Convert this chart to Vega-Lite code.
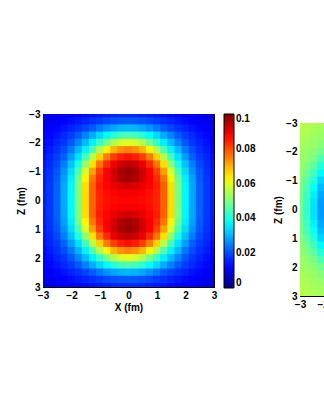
{
"$schema": "https://vega.github.io/schema/vega-lite/v6.json",
"padding": {"left": 16, "top": 109, "right": 0, "bottom": 10},
"background": "white",
"config": {
 "view": {"stroke": null},
 "font": "Liberation Sans",
 "axis": {"labelFont": "Liberation Sans", "labelFontWeight": "bold", "labelFontSize": 10, "labelColor": "black", "titleFont": "Liberation Sans", "titleFontWeight": "bold", "titleFontSize": 10, "titleColor": "black", "tickColor": "black", "domainColor": "black", "tickSize": -4, "grid": false, "labelPadding": 7, "titlePadding": 2, "labelFlush": false, "labelOverlap": false}
},
"datasets": {
"p1": [
{"x":-3,"z":-3,"v":0.0097},{"x":-2.75,"z":-3,"v":0.0100},{"x":-2.5,"z":-3,"v":0.0107},{"x":-2.25,"z":-3,"v":0.0113},{"x":-2,"z":-3,"v":0.0119},{"x":-1.75,"z":-3,"v":0.0127},{"x":-1.5,"z":-3,"v":0.0134},{"x":-1.25,"z":-3,"v":0.0142},{"x":-1,"z":-3,"v":0.0150},{"x":-0.75,"z":-3,"v":0.0155},{"x":-0.5,"z":-3,"v":0.0161},{"x":-0.25,"z":-3,"v":0.0164},{"x":0,"z":-3,"v":0.0165},{"x":0.25,"z":-3,"v":0.0164},{"x":0.5,"z":-3,"v":0.0161},{"x":0.75,"z":-3,"v":0.0155},{"x":1,"z":-3,"v":0.0150},{"x":1.25,"z":-3,"v":0.0142},{"x":1.5,"z":-3,"v":0.0134},{"x":1.75,"z":-3,"v":0.0127},{"x":2,"z":-3,"v":0.0119},{"x":2.25,"z":-3,"v":0.0113},{"x":2.5,"z":-3,"v":0.0107},{"x":2.75,"z":-3,"v":0.0100},{"x":3,"z":-3,"v":0.0097},
{"x":-3,"z":-2.75,"v":0.0103},{"x":-2.75,"z":-2.75,"v":0.0110},{"x":-2.5,"z":-2.75,"v":0.0117},{"x":-2.25,"z":-2.75,"v":0.0126},{"x":-2,"z":-2.75,"v":0.0136},{"x":-1.75,"z":-2.75,"v":0.0148},{"x":-1.5,"z":-2.75,"v":0.0159},{"x":-1.25,"z":-2.75,"v":0.0171},{"x":-1,"z":-2.75,"v":0.0182},{"x":-0.75,"z":-2.75,"v":0.0195},{"x":-0.5,"z":-2.75,"v":0.0204},{"x":-0.25,"z":-2.75,"v":0.0210},{"x":0,"z":-2.75,"v":0.0212},{"x":0.25,"z":-2.75,"v":0.0210},{"x":0.5,"z":-2.75,"v":0.0204},{"x":0.75,"z":-2.75,"v":0.0195},{"x":1,"z":-2.75,"v":0.0182},{"x":1.25,"z":-2.75,"v":0.0171},{"x":1.5,"z":-2.75,"v":0.0159},{"x":1.75,"z":-2.75,"v":0.0148},{"x":2,"z":-2.75,"v":0.0136},{"x":2.25,"z":-2.75,"v":0.0126},{"x":2.5,"z":-2.75,"v":0.0117},{"x":2.75,"z":-2.75,"v":0.0110},{"x":3,"z":-2.75,"v":0.0103},
{"x":-3,"z":-2.5,"v":0.0111},{"x":-2.75,"z":-2.5,"v":0.0119},{"x":-2.5,"z":-2.5,"v":0.0130},{"x":-2.25,"z":-2.5,"v":0.0143},{"x":-2,"z":-2.5,"v":0.0158},{"x":-1.75,"z":-2.5,"v":0.0174},{"x":-1.5,"z":-2.5,"v":0.0194},{"x":-1.25,"z":-2.5,"v":0.0215},{"x":-1,"z":-2.5,"v":0.0243},{"x":-0.75,"z":-2.5,"v":0.0269},{"x":-0.5,"z":-2.5,"v":0.0288},{"x":-0.25,"z":-2.5,"v":0.0302},{"x":0,"z":-2.5,"v":0.0306},{"x":0.25,"z":-2.5,"v":0.0302},{"x":0.5,"z":-2.5,"v":0.0288},{"x":0.75,"z":-2.5,"v":0.0269},{"x":1,"z":-2.5,"v":0.0243},{"x":1.25,"z":-2.5,"v":0.0215},{"x":1.5,"z":-2.5,"v":0.0194},{"x":1.75,"z":-2.5,"v":0.0174},{"x":2,"z":-2.5,"v":0.0158},{"x":2.25,"z":-2.5,"v":0.0143},{"x":2.5,"z":-2.5,"v":0.0130},{"x":2.75,"z":-2.5,"v":0.0119},{"x":3,"z":-2.5,"v":0.0111},
{"x":-3,"z":-2.25,"v":0.0119},{"x":-2.75,"z":-2.25,"v":0.0131},{"x":-2.5,"z":-2.25,"v":0.0146},{"x":-2.25,"z":-2.25,"v":0.0164},{"x":-2,"z":-2.25,"v":0.0184},{"x":-1.75,"z":-2.25,"v":0.0212},{"x":-1.5,"z":-2.25,"v":0.0253},{"x":-1.25,"z":-2.25,"v":0.0295},{"x":-1,"z":-2.25,"v":0.0337},{"x":-0.75,"z":-2.25,"v":0.0372},{"x":-0.5,"z":-2.25,"v":0.0414},{"x":-0.25,"z":-2.25,"v":0.0439},{"x":0,"z":-2.25,"v":0.0448},{"x":0.25,"z":-2.25,"v":0.0439},{"x":0.5,"z":-2.25,"v":0.0414},{"x":0.75,"z":-2.25,"v":0.0372},{"x":1,"z":-2.25,"v":0.0337},{"x":1.25,"z":-2.25,"v":0.0295},{"x":1.5,"z":-2.25,"v":0.0253},{"x":1.75,"z":-2.25,"v":0.0212},{"x":2,"z":-2.25,"v":0.0184},{"x":2.25,"z":-2.25,"v":0.0164},{"x":2.5,"z":-2.25,"v":0.0146},{"x":2.75,"z":-2.25,"v":0.0131},{"x":3,"z":-2.25,"v":0.0119},
{"x":-3,"z":-2,"v":0.0126},{"x":-2.75,"z":-2,"v":0.0140},{"x":-2.5,"z":-2,"v":0.0158},{"x":-2.25,"z":-2,"v":0.0179},{"x":-2,"z":-2,"v":0.0210},{"x":-1.75,"z":-2,"v":0.0256},{"x":-1.5,"z":-2,"v":0.0308},{"x":-1.25,"z":-2,"v":0.0360},{"x":-1,"z":-2,"v":0.0429},{"x":-0.75,"z":-2,"v":0.0491},{"x":-0.5,"z":-2,"v":0.0549},{"x":-0.25,"z":-2,"v":0.0587},{"x":0,"z":-2,"v":0.0599},{"x":0.25,"z":-2,"v":0.0587},{"x":0.5,"z":-2,"v":0.0549},{"x":0.75,"z":-2,"v":0.0491},{"x":1,"z":-2,"v":0.0429},{"x":1.25,"z":-2,"v":0.0360},{"x":1.5,"z":-2,"v":0.0308},{"x":1.75,"z":-2,"v":0.0256},{"x":2,"z":-2,"v":0.0210},{"x":2.25,"z":-2,"v":0.0179},{"x":2.5,"z":-2,"v":0.0158},{"x":2.75,"z":-2,"v":0.0140},{"x":3,"z":-2,"v":0.0126},
{"x":-3,"z":-1.75,"v":0.0133},{"x":-2.75,"z":-1.75,"v":0.0150},{"x":-2.5,"z":-1.75,"v":0.0171},{"x":-2.25,"z":-1.75,"v":0.0200},{"x":-2,"z":-1.75,"v":0.0244},{"x":-1.75,"z":-1.75,"v":0.0303},{"x":-1.5,"z":-1.75,"v":0.0364},{"x":-1.25,"z":-1.75,"v":0.0453},{"x":-1,"z":-1.75,"v":0.0546},{"x":-0.75,"z":-1.75,"v":0.0636},{"x":-0.5,"z":-1.75,"v":0.0697},{"x":-0.25,"z":-1.75,"v":0.0733},{"x":0,"z":-1.75,"v":0.0746},{"x":0.25,"z":-1.75,"v":0.0733},{"x":0.5,"z":-1.75,"v":0.0697},{"x":0.75,"z":-1.75,"v":0.0636},{"x":1,"z":-1.75,"v":0.0546},{"x":1.25,"z":-1.75,"v":0.0453},{"x":1.5,"z":-1.75,"v":0.0364},{"x":1.75,"z":-1.75,"v":0.0303},{"x":2,"z":-1.75,"v":0.0244},{"x":2.25,"z":-1.75,"v":0.0200},{"x":2.5,"z":-1.75,"v":0.0171},{"x":2.75,"z":-1.75,"v":0.0150},{"x":3,"z":-1.75,"v":0.0133},
{"x":-3,"z":-1.5,"v":0.0139},{"x":-2.75,"z":-1.5,"v":0.0159},{"x":-2.5,"z":-1.5,"v":0.0183},{"x":-2.25,"z":-1.5,"v":0.0219},{"x":-2,"z":-1.5,"v":0.0281},{"x":-1.75,"z":-1.5,"v":0.0346},{"x":-1.5,"z":-1.5,"v":0.0443},{"x":-1.25,"z":-1.5,"v":0.0555},{"x":-1,"z":-1.5,"v":0.0671},{"x":-0.75,"z":-1.5,"v":0.0754},{"x":-0.5,"z":-1.5,"v":0.0815},{"x":-0.25,"z":-1.5,"v":0.0847},{"x":0,"z":-1.5,"v":0.0860},{"x":0.25,"z":-1.5,"v":0.0847},{"x":0.5,"z":-1.5,"v":0.0815},{"x":0.75,"z":-1.5,"v":0.0754},{"x":1,"z":-1.5,"v":0.0671},{"x":1.25,"z":-1.5,"v":0.0555},{"x":1.5,"z":-1.5,"v":0.0443},{"x":1.75,"z":-1.5,"v":0.0346},{"x":2,"z":-1.5,"v":0.0281},{"x":2.25,"z":-1.5,"v":0.0219},{"x":2.5,"z":-1.5,"v":0.0183},{"x":2.75,"z":-1.5,"v":0.0159},{"x":3,"z":-1.5,"v":0.0139},
{"x":-3,"z":-1.25,"v":0.0146},{"x":-2.75,"z":-1.25,"v":0.0167},{"x":-2.5,"z":-1.25,"v":0.0197},{"x":-2.25,"z":-1.25,"v":0.0247},{"x":-2,"z":-1.25,"v":0.0315},{"x":-1.75,"z":-1.25,"v":0.0398},{"x":-1.5,"z":-1.25,"v":0.0517},{"x":-1.25,"z":-1.25,"v":0.0655},{"x":-1,"z":-1.25,"v":0.0760},{"x":-0.75,"z":-1.25,"v":0.0834},{"x":-0.5,"z":-1.25,"v":0.0892},{"x":-0.25,"z":-1.25,"v":0.0924},{"x":0,"z":-1.25,"v":0.0938},{"x":0.25,"z":-1.25,"v":0.0924},{"x":0.5,"z":-1.25,"v":0.0892},{"x":0.75,"z":-1.25,"v":0.0834},{"x":1,"z":-1.25,"v":0.0760},{"x":1.25,"z":-1.25,"v":0.0655},{"x":1.5,"z":-1.25,"v":0.0517},{"x":1.75,"z":-1.25,"v":0.0398},{"x":2,"z":-1.25,"v":0.0315},{"x":2.25,"z":-1.25,"v":0.0247},{"x":2.5,"z":-1.25,"v":0.0197},{"x":2.75,"z":-1.25,"v":0.0167},{"x":3,"z":-1.25,"v":0.0146},
{"x":-3,"z":-1,"v":0.0150},{"x":-2.75,"z":-1,"v":0.0174},{"x":-2.5,"z":-1,"v":0.0209},{"x":-2.25,"z":-1,"v":0.0268},{"x":-2,"z":-1,"v":0.0342},{"x":-1.75,"z":-1,"v":0.0448},{"x":-1.5,"z":-1,"v":0.0587},{"x":-1.25,"z":-1,"v":0.0718},{"x":-1,"z":-1,"v":0.0813},{"x":-0.75,"z":-1,"v":0.0876},{"x":-0.5,"z":-1,"v":0.0921},{"x":-0.25,"z":-1,"v":0.0961},{"x":0,"z":-1,"v":0.0977},{"x":0.25,"z":-1,"v":0.0961},{"x":0.5,"z":-1,"v":0.0921},{"x":0.75,"z":-1,"v":0.0876},{"x":1,"z":-1,"v":0.0813},{"x":1.25,"z":-1,"v":0.0718},{"x":1.5,"z":-1,"v":0.0587},{"x":1.75,"z":-1,"v":0.0448},{"x":2,"z":-1,"v":0.0342},{"x":2.25,"z":-1,"v":0.0268},{"x":2.5,"z":-1,"v":0.0209},{"x":2.75,"z":-1,"v":0.0174},{"x":3,"z":-1,"v":0.0150},
{"x":-3,"z":-0.75,"v":0.0153},{"x":-2.75,"z":-0.75,"v":0.0178},{"x":-2.5,"z":-0.75,"v":0.0216},{"x":-2.25,"z":-0.75,"v":0.0282},{"x":-2,"z":-0.75,"v":0.0360},{"x":-1.75,"z":-0.75,"v":0.0482},{"x":-1.5,"z":-0.75,"v":0.0635},{"x":-1.25,"z":-0.75,"v":0.0760},{"x":-1,"z":-0.75,"v":0.0837},{"x":-0.75,"z":-0.75,"v":0.0880},{"x":-0.5,"z":-0.75,"v":0.0918},{"x":-0.25,"z":-0.75,"v":0.0951},{"x":0,"z":-0.75,"v":0.0965},{"x":0.25,"z":-0.75,"v":0.0951},{"x":0.5,"z":-0.75,"v":0.0918},{"x":0.75,"z":-0.75,"v":0.0880},{"x":1,"z":-0.75,"v":0.0837},{"x":1.25,"z":-0.75,"v":0.0760},{"x":1.5,"z":-0.75,"v":0.0635},{"x":1.75,"z":-0.75,"v":0.0482},{"x":2,"z":-0.75,"v":0.0360},{"x":2.25,"z":-0.75,"v":0.0282},{"x":2.5,"z":-0.75,"v":0.0216},{"x":2.75,"z":-0.75,"v":0.0178},{"x":3,"z":-0.75,"v":0.0153},
{"x":-3,"z":-0.5,"v":0.0155},{"x":-2.75,"z":-0.5,"v":0.0180},{"x":-2.5,"z":-0.5,"v":0.0220},{"x":-2.25,"z":-0.5,"v":0.0289},{"x":-2,"z":-0.5,"v":0.0369},{"x":-1.75,"z":-0.5,"v":0.0498},{"x":-1.5,"z":-0.5,"v":0.0658},{"x":-1.25,"z":-0.5,"v":0.0780},{"x":-1,"z":-0.5,"v":0.0846},{"x":-0.75,"z":-0.5,"v":0.0872},{"x":-0.5,"z":-0.5,"v":0.0895},{"x":-0.25,"z":-0.5,"v":0.0913},{"x":0,"z":-0.5,"v":0.0921},{"x":0.25,"z":-0.5,"v":0.0913},{"x":0.5,"z":-0.5,"v":0.0895},{"x":0.75,"z":-0.5,"v":0.0872},{"x":1,"z":-0.5,"v":0.0846},{"x":1.25,"z":-0.5,"v":0.0780},{"x":1.5,"z":-0.5,"v":0.0658},{"x":1.75,"z":-0.5,"v":0.0498},{"x":2,"z":-0.5,"v":0.0369},{"x":2.25,"z":-0.5,"v":0.0289},{"x":2.5,"z":-0.5,"v":0.0220},{"x":2.75,"z":-0.5,"v":0.0180},{"x":3,"z":-0.5,"v":0.0155},
{"x":-3,"z":-0.25,"v":0.0155},{"x":-2.75,"z":-0.25,"v":0.0180},{"x":-2.5,"z":-0.25,"v":0.0220},{"x":-2.25,"z":-0.25,"v":0.0290},{"x":-2,"z":-0.25,"v":0.0370},{"x":-1.75,"z":-0.25,"v":0.0500},{"x":-1.5,"z":-0.25,"v":0.0660},{"x":-1.25,"z":-0.25,"v":0.0781},{"x":-1,"z":-0.25,"v":0.0843},{"x":-0.75,"z":-0.25,"v":0.0862},{"x":-0.5,"z":-0.25,"v":0.0874},{"x":-0.25,"z":-0.25,"v":0.0881},{"x":0,"z":-0.25,"v":0.0884},{"x":0.25,"z":-0.25,"v":0.0881},{"x":0.5,"z":-0.25,"v":0.0874},{"x":0.75,"z":-0.25,"v":0.0862},{"x":1,"z":-0.25,"v":0.0843},{"x":1.25,"z":-0.25,"v":0.0781},{"x":1.5,"z":-0.25,"v":0.0660},{"x":1.75,"z":-0.25,"v":0.0500},{"x":2,"z":-0.25,"v":0.0370},{"x":2.25,"z":-0.25,"v":0.0290},{"x":2.5,"z":-0.25,"v":0.0220},{"x":2.75,"z":-0.25,"v":0.0180},{"x":3,"z":-0.25,"v":0.0155},
{"x":-3,"z":0,"v":0.0155},{"x":-2.75,"z":0,"v":0.0180},{"x":-2.5,"z":0,"v":0.0220},{"x":-2.25,"z":0,"v":0.0290},{"x":-2,"z":0,"v":0.0370},{"x":-1.75,"z":0,"v":0.0500},{"x":-1.5,"z":0,"v":0.0660},{"x":-1.25,"z":0,"v":0.0780},{"x":-1,"z":0,"v":0.0841},{"x":-0.75,"z":0,"v":0.0858},{"x":-0.5,"z":0,"v":0.0867},{"x":-0.25,"z":0,"v":0.0870},{"x":0,"z":0,"v":0.0872},{"x":0.25,"z":0,"v":0.0870},{"x":0.5,"z":0,"v":0.0867},{"x":0.75,"z":0,"v":0.0858},{"x":1,"z":0,"v":0.0841},{"x":1.25,"z":0,"v":0.0780},{"x":1.5,"z":0,"v":0.0660},{"x":1.75,"z":0,"v":0.0500},{"x":2,"z":0,"v":0.0370},{"x":2.25,"z":0,"v":0.0290},{"x":2.5,"z":0,"v":0.0220},{"x":2.75,"z":0,"v":0.0180},{"x":3,"z":0,"v":0.0155},
{"x":-3,"z":0.25,"v":0.0155},{"x":-2.75,"z":0.25,"v":0.0180},{"x":-2.5,"z":0.25,"v":0.0220},{"x":-2.25,"z":0.25,"v":0.0290},{"x":-2,"z":0.25,"v":0.0370},{"x":-1.75,"z":0.25,"v":0.0500},{"x":-1.5,"z":0.25,"v":0.0660},{"x":-1.25,"z":0.25,"v":0.0781},{"x":-1,"z":0.25,"v":0.0843},{"x":-0.75,"z":0.25,"v":0.0862},{"x":-0.5,"z":0.25,"v":0.0874},{"x":-0.25,"z":0.25,"v":0.0881},{"x":0,"z":0.25,"v":0.0884},{"x":0.25,"z":0.25,"v":0.0881},{"x":0.5,"z":0.25,"v":0.0874},{"x":0.75,"z":0.25,"v":0.0862},{"x":1,"z":0.25,"v":0.0843},{"x":1.25,"z":0.25,"v":0.0781},{"x":1.5,"z":0.25,"v":0.0660},{"x":1.75,"z":0.25,"v":0.0500},{"x":2,"z":0.25,"v":0.0370},{"x":2.25,"z":0.25,"v":0.0290},{"x":2.5,"z":0.25,"v":0.0220},{"x":2.75,"z":0.25,"v":0.0180},{"x":3,"z":0.25,"v":0.0155},
{"x":-3,"z":0.5,"v":0.0155},{"x":-2.75,"z":0.5,"v":0.0180},{"x":-2.5,"z":0.5,"v":0.0220},{"x":-2.25,"z":0.5,"v":0.0289},{"x":-2,"z":0.5,"v":0.0369},{"x":-1.75,"z":0.5,"v":0.0498},{"x":-1.5,"z":0.5,"v":0.0658},{"x":-1.25,"z":0.5,"v":0.0780},{"x":-1,"z":0.5,"v":0.0846},{"x":-0.75,"z":0.5,"v":0.0872},{"x":-0.5,"z":0.5,"v":0.0895},{"x":-0.25,"z":0.5,"v":0.0913},{"x":0,"z":0.5,"v":0.0921},{"x":0.25,"z":0.5,"v":0.0913},{"x":0.5,"z":0.5,"v":0.0895},{"x":0.75,"z":0.5,"v":0.0872},{"x":1,"z":0.5,"v":0.0846},{"x":1.25,"z":0.5,"v":0.0780},{"x":1.5,"z":0.5,"v":0.0658},{"x":1.75,"z":0.5,"v":0.0498},{"x":2,"z":0.5,"v":0.0369},{"x":2.25,"z":0.5,"v":0.0289},{"x":2.5,"z":0.5,"v":0.0220},{"x":2.75,"z":0.5,"v":0.0180},{"x":3,"z":0.5,"v":0.0155},
{"x":-3,"z":0.75,"v":0.0153},{"x":-2.75,"z":0.75,"v":0.0178},{"x":-2.5,"z":0.75,"v":0.0216},{"x":-2.25,"z":0.75,"v":0.0282},{"x":-2,"z":0.75,"v":0.0360},{"x":-1.75,"z":0.75,"v":0.0482},{"x":-1.5,"z":0.75,"v":0.0635},{"x":-1.25,"z":0.75,"v":0.0760},{"x":-1,"z":0.75,"v":0.0837},{"x":-0.75,"z":0.75,"v":0.0880},{"x":-0.5,"z":0.75,"v":0.0918},{"x":-0.25,"z":0.75,"v":0.0951},{"x":0,"z":0.75,"v":0.0965},{"x":0.25,"z":0.75,"v":0.0951},{"x":0.5,"z":0.75,"v":0.0918},{"x":0.75,"z":0.75,"v":0.0880},{"x":1,"z":0.75,"v":0.0837},{"x":1.25,"z":0.75,"v":0.0760},{"x":1.5,"z":0.75,"v":0.0635},{"x":1.75,"z":0.75,"v":0.0482},{"x":2,"z":0.75,"v":0.0360},{"x":2.25,"z":0.75,"v":0.0282},{"x":2.5,"z":0.75,"v":0.0216},{"x":2.75,"z":0.75,"v":0.0178},{"x":3,"z":0.75,"v":0.0153},
{"x":-3,"z":1,"v":0.0150},{"x":-2.75,"z":1,"v":0.0174},{"x":-2.5,"z":1,"v":0.0209},{"x":-2.25,"z":1,"v":0.0268},{"x":-2,"z":1,"v":0.0342},{"x":-1.75,"z":1,"v":0.0448},{"x":-1.5,"z":1,"v":0.0587},{"x":-1.25,"z":1,"v":0.0718},{"x":-1,"z":1,"v":0.0813},{"x":-0.75,"z":1,"v":0.0876},{"x":-0.5,"z":1,"v":0.0921},{"x":-0.25,"z":1,"v":0.0961},{"x":0,"z":1,"v":0.0977},{"x":0.25,"z":1,"v":0.0961},{"x":0.5,"z":1,"v":0.0921},{"x":0.75,"z":1,"v":0.0876},{"x":1,"z":1,"v":0.0813},{"x":1.25,"z":1,"v":0.0718},{"x":1.5,"z":1,"v":0.0587},{"x":1.75,"z":1,"v":0.0448},{"x":2,"z":1,"v":0.0342},{"x":2.25,"z":1,"v":0.0268},{"x":2.5,"z":1,"v":0.0209},{"x":2.75,"z":1,"v":0.0174},{"x":3,"z":1,"v":0.0150},
{"x":-3,"z":1.25,"v":0.0146},{"x":-2.75,"z":1.25,"v":0.0167},{"x":-2.5,"z":1.25,"v":0.0197},{"x":-2.25,"z":1.25,"v":0.0247},{"x":-2,"z":1.25,"v":0.0315},{"x":-1.75,"z":1.25,"v":0.0398},{"x":-1.5,"z":1.25,"v":0.0517},{"x":-1.25,"z":1.25,"v":0.0655},{"x":-1,"z":1.25,"v":0.0760},{"x":-0.75,"z":1.25,"v":0.0834},{"x":-0.5,"z":1.25,"v":0.0892},{"x":-0.25,"z":1.25,"v":0.0924},{"x":0,"z":1.25,"v":0.0938},{"x":0.25,"z":1.25,"v":0.0924},{"x":0.5,"z":1.25,"v":0.0892},{"x":0.75,"z":1.25,"v":0.0834},{"x":1,"z":1.25,"v":0.0760},{"x":1.25,"z":1.25,"v":0.0655},{"x":1.5,"z":1.25,"v":0.0517},{"x":1.75,"z":1.25,"v":0.0398},{"x":2,"z":1.25,"v":0.0315},{"x":2.25,"z":1.25,"v":0.0247},{"x":2.5,"z":1.25,"v":0.0197},{"x":2.75,"z":1.25,"v":0.0167},{"x":3,"z":1.25,"v":0.0146},
{"x":-3,"z":1.5,"v":0.0139},{"x":-2.75,"z":1.5,"v":0.0159},{"x":-2.5,"z":1.5,"v":0.0183},{"x":-2.25,"z":1.5,"v":0.0219},{"x":-2,"z":1.5,"v":0.0281},{"x":-1.75,"z":1.5,"v":0.0346},{"x":-1.5,"z":1.5,"v":0.0443},{"x":-1.25,"z":1.5,"v":0.0555},{"x":-1,"z":1.5,"v":0.0671},{"x":-0.75,"z":1.5,"v":0.0754},{"x":-0.5,"z":1.5,"v":0.0815},{"x":-0.25,"z":1.5,"v":0.0847},{"x":0,"z":1.5,"v":0.0860},{"x":0.25,"z":1.5,"v":0.0847},{"x":0.5,"z":1.5,"v":0.0815},{"x":0.75,"z":1.5,"v":0.0754},{"x":1,"z":1.5,"v":0.0671},{"x":1.25,"z":1.5,"v":0.0555},{"x":1.5,"z":1.5,"v":0.0443},{"x":1.75,"z":1.5,"v":0.0346},{"x":2,"z":1.5,"v":0.0281},{"x":2.25,"z":1.5,"v":0.0219},{"x":2.5,"z":1.5,"v":0.0183},{"x":2.75,"z":1.5,"v":0.0159},{"x":3,"z":1.5,"v":0.0139},
{"x":-3,"z":1.75,"v":0.0133},{"x":-2.75,"z":1.75,"v":0.0150},{"x":-2.5,"z":1.75,"v":0.0171},{"x":-2.25,"z":1.75,"v":0.0200},{"x":-2,"z":1.75,"v":0.0244},{"x":-1.75,"z":1.75,"v":0.0303},{"x":-1.5,"z":1.75,"v":0.0364},{"x":-1.25,"z":1.75,"v":0.0453},{"x":-1,"z":1.75,"v":0.0546},{"x":-0.75,"z":1.75,"v":0.0636},{"x":-0.5,"z":1.75,"v":0.0697},{"x":-0.25,"z":1.75,"v":0.0733},{"x":0,"z":1.75,"v":0.0746},{"x":0.25,"z":1.75,"v":0.0733},{"x":0.5,"z":1.75,"v":0.0697},{"x":0.75,"z":1.75,"v":0.0636},{"x":1,"z":1.75,"v":0.0546},{"x":1.25,"z":1.75,"v":0.0453},{"x":1.5,"z":1.75,"v":0.0364},{"x":1.75,"z":1.75,"v":0.0303},{"x":2,"z":1.75,"v":0.0244},{"x":2.25,"z":1.75,"v":0.0200},{"x":2.5,"z":1.75,"v":0.0171},{"x":2.75,"z":1.75,"v":0.0150},{"x":3,"z":1.75,"v":0.0133},
{"x":-3,"z":2,"v":0.0126},{"x":-2.75,"z":2,"v":0.0140},{"x":-2.5,"z":2,"v":0.0158},{"x":-2.25,"z":2,"v":0.0179},{"x":-2,"z":2,"v":0.0210},{"x":-1.75,"z":2,"v":0.0256},{"x":-1.5,"z":2,"v":0.0308},{"x":-1.25,"z":2,"v":0.0360},{"x":-1,"z":2,"v":0.0429},{"x":-0.75,"z":2,"v":0.0491},{"x":-0.5,"z":2,"v":0.0549},{"x":-0.25,"z":2,"v":0.0587},{"x":0,"z":2,"v":0.0599},{"x":0.25,"z":2,"v":0.0587},{"x":0.5,"z":2,"v":0.0549},{"x":0.75,"z":2,"v":0.0491},{"x":1,"z":2,"v":0.0429},{"x":1.25,"z":2,"v":0.0360},{"x":1.5,"z":2,"v":0.0308},{"x":1.75,"z":2,"v":0.0256},{"x":2,"z":2,"v":0.0210},{"x":2.25,"z":2,"v":0.0179},{"x":2.5,"z":2,"v":0.0158},{"x":2.75,"z":2,"v":0.0140},{"x":3,"z":2,"v":0.0126},
{"x":-3,"z":2.25,"v":0.0119},{"x":-2.75,"z":2.25,"v":0.0131},{"x":-2.5,"z":2.25,"v":0.0146},{"x":-2.25,"z":2.25,"v":0.0164},{"x":-2,"z":2.25,"v":0.0184},{"x":-1.75,"z":2.25,"v":0.0212},{"x":-1.5,"z":2.25,"v":0.0253},{"x":-1.25,"z":2.25,"v":0.0295},{"x":-1,"z":2.25,"v":0.0337},{"x":-0.75,"z":2.25,"v":0.0372},{"x":-0.5,"z":2.25,"v":0.0414},{"x":-0.25,"z":2.25,"v":0.0439},{"x":0,"z":2.25,"v":0.0448},{"x":0.25,"z":2.25,"v":0.0439},{"x":0.5,"z":2.25,"v":0.0414},{"x":0.75,"z":2.25,"v":0.0372},{"x":1,"z":2.25,"v":0.0337},{"x":1.25,"z":2.25,"v":0.0295},{"x":1.5,"z":2.25,"v":0.0253},{"x":1.75,"z":2.25,"v":0.0212},{"x":2,"z":2.25,"v":0.0184},{"x":2.25,"z":2.25,"v":0.0164},{"x":2.5,"z":2.25,"v":0.0146},{"x":2.75,"z":2.25,"v":0.0131},{"x":3,"z":2.25,"v":0.0119},
{"x":-3,"z":2.5,"v":0.0111},{"x":-2.75,"z":2.5,"v":0.0119},{"x":-2.5,"z":2.5,"v":0.0130},{"x":-2.25,"z":2.5,"v":0.0143},{"x":-2,"z":2.5,"v":0.0158},{"x":-1.75,"z":2.5,"v":0.0174},{"x":-1.5,"z":2.5,"v":0.0194},{"x":-1.25,"z":2.5,"v":0.0215},{"x":-1,"z":2.5,"v":0.0243},{"x":-0.75,"z":2.5,"v":0.0269},{"x":-0.5,"z":2.5,"v":0.0288},{"x":-0.25,"z":2.5,"v":0.0302},{"x":0,"z":2.5,"v":0.0306},{"x":0.25,"z":2.5,"v":0.0302},{"x":0.5,"z":2.5,"v":0.0288},{"x":0.75,"z":2.5,"v":0.0269},{"x":1,"z":2.5,"v":0.0243},{"x":1.25,"z":2.5,"v":0.0215},{"x":1.5,"z":2.5,"v":0.0194},{"x":1.75,"z":2.5,"v":0.0174},{"x":2,"z":2.5,"v":0.0158},{"x":2.25,"z":2.5,"v":0.0143},{"x":2.5,"z":2.5,"v":0.0130},{"x":2.75,"z":2.5,"v":0.0119},{"x":3,"z":2.5,"v":0.0111},
{"x":-3,"z":2.75,"v":0.0103},{"x":-2.75,"z":2.75,"v":0.0110},{"x":-2.5,"z":2.75,"v":0.0117},{"x":-2.25,"z":2.75,"v":0.0126},{"x":-2,"z":2.75,"v":0.0136},{"x":-1.75,"z":2.75,"v":0.0148},{"x":-1.5,"z":2.75,"v":0.0159},{"x":-1.25,"z":2.75,"v":0.0171},{"x":-1,"z":2.75,"v":0.0182},{"x":-0.75,"z":2.75,"v":0.0195},{"x":-0.5,"z":2.75,"v":0.0204},{"x":-0.25,"z":2.75,"v":0.0210},{"x":0,"z":2.75,"v":0.0212},{"x":0.25,"z":2.75,"v":0.0210},{"x":0.5,"z":2.75,"v":0.0204},{"x":0.75,"z":2.75,"v":0.0195},{"x":1,"z":2.75,"v":0.0182},{"x":1.25,"z":2.75,"v":0.0171},{"x":1.5,"z":2.75,"v":0.0159},{"x":1.75,"z":2.75,"v":0.0148},{"x":2,"z":2.75,"v":0.0136},{"x":2.25,"z":2.75,"v":0.0126},{"x":2.5,"z":2.75,"v":0.0117},{"x":2.75,"z":2.75,"v":0.0110},{"x":3,"z":2.75,"v":0.0103},
{"x":-3,"z":3,"v":0.0097},{"x":-2.75,"z":3,"v":0.0100},{"x":-2.5,"z":3,"v":0.0107},{"x":-2.25,"z":3,"v":0.0113},{"x":-2,"z":3,"v":0.0119},{"x":-1.75,"z":3,"v":0.0127},{"x":-1.5,"z":3,"v":0.0134},{"x":-1.25,"z":3,"v":0.0142},{"x":-1,"z":3,"v":0.0150},{"x":-0.75,"z":3,"v":0.0155},{"x":-0.5,"z":3,"v":0.0161},{"x":-0.25,"z":3,"v":0.0164},{"x":0,"z":3,"v":0.0165},{"x":0.25,"z":3,"v":0.0164},{"x":0.5,"z":3,"v":0.0161},{"x":0.75,"z":3,"v":0.0155},{"x":1,"z":3,"v":0.0150},{"x":1.25,"z":3,"v":0.0142},{"x":1.5,"z":3,"v":0.0134},{"x":1.75,"z":3,"v":0.0127},{"x":2,"z":3,"v":0.0119},{"x":2.25,"z":3,"v":0.0113},{"x":2.5,"z":3,"v":0.0107},{"x":2.75,"z":3,"v":0.0100},{"x":3,"z":3,"v":0.0097}
],
"p2": [
{"x":-3,"z":-3,"v":0.0560},{"x":-2.75,"z":-3,"v":0.0553},{"x":-2.5,"z":-3,"v":0.0546},{"x":-2.25,"z":-3,"v":0.0540},{"x":-2,"z":-3,"v":0.0534},
{"x":-3,"z":-2.75,"v":0.0553},{"x":-2.75,"z":-2.75,"v":0.0546},{"x":-2.5,"z":-2.75,"v":0.0539},{"x":-2.25,"z":-2.75,"v":0.0532},{"x":-2,"z":-2.75,"v":0.0524},
{"x":-3,"z":-2.5,"v":0.0546},{"x":-2.75,"z":-2.5,"v":0.0539},{"x":-2.5,"z":-2.5,"v":0.0531},{"x":-2.25,"z":-2.5,"v":0.0522},{"x":-2,"z":-2.5,"v":0.0509},
{"x":-3,"z":-2.25,"v":0.0540},{"x":-2.75,"z":-2.25,"v":0.0532},{"x":-2.5,"z":-2.25,"v":0.0522},{"x":-2.25,"z":-2.25,"v":0.0507},{"x":-2,"z":-2.25,"v":0.0486},
{"x":-3,"z":-2,"v":0.0534},{"x":-2.75,"z":-2,"v":0.0524},{"x":-2.5,"z":-2,"v":0.0509},{"x":-2.25,"z":-2,"v":0.0486},{"x":-2,"z":-2,"v":0.0444},
{"x":-3,"z":-1.75,"v":0.0528},{"x":-2.75,"z":-1.75,"v":0.0516},{"x":-2.5,"z":-1.75,"v":0.0491},{"x":-2.25,"z":-1.75,"v":0.0449},{"x":-2,"z":-1.75,"v":0.0396},
{"x":-3,"z":-1.5,"v":0.0521},{"x":-2.75,"z":-1.5,"v":0.0501},{"x":-2.5,"z":-1.5,"v":0.0465},{"x":-2.25,"z":-1.5,"v":0.0410},{"x":-2,"z":-1.5,"v":0.0345},
{"x":-3,"z":-1.25,"v":0.0515},{"x":-2.75,"z":-1.25,"v":0.0488},{"x":-2.5,"z":-1.25,"v":0.0436},{"x":-2.25,"z":-1.25,"v":0.0369},{"x":-2,"z":-1.25,"v":0.0305},
{"x":-3,"z":-1,"v":0.0504},{"x":-2.75,"z":-1,"v":0.0467},{"x":-2.5,"z":-1,"v":0.0407},{"x":-2.25,"z":-1,"v":0.0334},{"x":-2,"z":-1,"v":0.0271},
{"x":-3,"z":-0.75,"v":0.0496},{"x":-2.75,"z":-0.75,"v":0.0449},{"x":-2.5,"z":-0.75,"v":0.0380},{"x":-2.25,"z":-0.75,"v":0.0309},{"x":-2,"z":-0.75,"v":0.0245},
{"x":-3,"z":-0.5,"v":0.0490},{"x":-2.75,"z":-0.5,"v":0.0436},{"x":-2.5,"z":-0.5,"v":0.0361},{"x":-2.25,"z":-0.5,"v":0.0290},{"x":-2,"z":-0.5,"v":0.0226},
{"x":-3,"z":-0.25,"v":0.0486},{"x":-2.75,"z":-0.25,"v":0.0428},{"x":-2.5,"z":-0.25,"v":0.0349},{"x":-2.25,"z":-0.25,"v":0.0279},{"x":-2,"z":-0.25,"v":0.0214},
{"x":-3,"z":0,"v":0.0485},{"x":-2.75,"z":0,"v":0.0425},{"x":-2.5,"z":0,"v":0.0345},{"x":-2.25,"z":0,"v":0.0275},{"x":-2,"z":0,"v":0.0210},
{"x":-3,"z":0.25,"v":0.0486},{"x":-2.75,"z":0.25,"v":0.0428},{"x":-2.5,"z":0.25,"v":0.0349},{"x":-2.25,"z":0.25,"v":0.0279},{"x":-2,"z":0.25,"v":0.0214},
{"x":-3,"z":0.5,"v":0.0490},{"x":-2.75,"z":0.5,"v":0.0436},{"x":-2.5,"z":0.5,"v":0.0361},{"x":-2.25,"z":0.5,"v":0.0290},{"x":-2,"z":0.5,"v":0.0226},
{"x":-3,"z":0.75,"v":0.0496},{"x":-2.75,"z":0.75,"v":0.0449},{"x":-2.5,"z":0.75,"v":0.0380},{"x":-2.25,"z":0.75,"v":0.0309},{"x":-2,"z":0.75,"v":0.0245},
{"x":-3,"z":1,"v":0.0504},{"x":-2.75,"z":1,"v":0.0467},{"x":-2.5,"z":1,"v":0.0407},{"x":-2.25,"z":1,"v":0.0334},{"x":-2,"z":1,"v":0.0271},
{"x":-3,"z":1.25,"v":0.0515},{"x":-2.75,"z":1.25,"v":0.0488},{"x":-2.5,"z":1.25,"v":0.0436},{"x":-2.25,"z":1.25,"v":0.0369},{"x":-2,"z":1.25,"v":0.0305},
{"x":-3,"z":1.5,"v":0.0521},{"x":-2.75,"z":1.5,"v":0.0501},{"x":-2.5,"z":1.5,"v":0.0465},{"x":-2.25,"z":1.5,"v":0.0410},{"x":-2,"z":1.5,"v":0.0345},
{"x":-3,"z":1.75,"v":0.0528},{"x":-2.75,"z":1.75,"v":0.0516},{"x":-2.5,"z":1.75,"v":0.0491},{"x":-2.25,"z":1.75,"v":0.0449},{"x":-2,"z":1.75,"v":0.0396},
{"x":-3,"z":2,"v":0.0534},{"x":-2.75,"z":2,"v":0.0524},{"x":-2.5,"z":2,"v":0.0509},{"x":-2.25,"z":2,"v":0.0486},{"x":-2,"z":2,"v":0.0444},
{"x":-3,"z":2.25,"v":0.0540},{"x":-2.75,"z":2.25,"v":0.0532},{"x":-2.5,"z":2.25,"v":0.0522},{"x":-2.25,"z":2.25,"v":0.0507},{"x":-2,"z":2.25,"v":0.0486},
{"x":-3,"z":2.5,"v":0.0546},{"x":-2.75,"z":2.5,"v":0.0539},{"x":-2.5,"z":2.5,"v":0.0531},{"x":-2.25,"z":2.5,"v":0.0522},{"x":-2,"z":2.5,"v":0.0509},
{"x":-3,"z":2.75,"v":0.0553},{"x":-2.75,"z":2.75,"v":0.0546},{"x":-2.5,"z":2.75,"v":0.0539},{"x":-2.25,"z":2.75,"v":0.0532},{"x":-2,"z":2.75,"v":0.0524},
{"x":-3,"z":3,"v":0.0560},{"x":-2.75,"z":3,"v":0.0553},{"x":-2.5,"z":3,"v":0.0546},{"x":-2.25,"z":3,"v":0.0540},{"x":-2,"z":3,"v":0.0534}
],
"spacer": [{"s": 1}]
},
"hconcat": [
 {
  "width": 171, "height": 173,
  "data": {"name": "p1"},
  "layer": [
   {
    "mark": {"type": "rect", "width": 8, "height": 8, "clip": true},
    "encoding": {
     "x": {"field": "x", "type": "quantitative", "scale": {"domain": [-3, 3], "nice": false, "zero": false}, "axis": {"orient": "bottom", "values": [-3, -2, -1, 0, 1, 2, 3], "format": "~g", "title": "X (fm)"}},
     "y": {"field": "z", "type": "quantitative", "scale": {"domain": [-3, 3], "nice": false, "zero": false, "reverse": true}, "axis": {"orient": "left", "values": [-3, -2, -1, 0, 1, 2, 3], "format": "~g", "title": "Z (fm)"}},
     "color": {"field": "v", "type": "quantitative", "scale": {"domain": [0, 0.1], "range": ["#00007F", "#0000FF", "#007FFF", "#00FFFF", "#7FFF7F", "#FFFF00", "#FF7F00", "#FF0000", "#7F0000"], "interpolate": "rgb"},
      "legend": {"orient": "right", "offset": 9, "padding": 0, "title": null, "gradientLength": 174, "gradientThickness": 10, "values": [0, 0.02, 0.04, 0.06, 0.08, 0.1], "format": "~g", "labelFont": "Liberation Sans", "labelFontWeight": "bold", "labelFontSize": 10, "labelColor": "black", "labelOffset": 2, "labelOverlap": false, "gradientStrokeColor": "black", "gradientStrokeWidth": 1, "direction": "vertical"}}
    }
   },
   {
    "mark": {"type": "rect", "width": 1, "height": 1, "opacity": 0},
    "encoding": {
     "x": {"field": "x", "type": "quantitative", "axis": {"orient": "top", "values": [-3, -2, -1, 0, 1, 2, 3], "labels": false, "title": null}},
     "y": {"field": "z", "type": "quantitative", "axis": {"orient": "right", "values": [-3, -2, -1, 0, 1, 2, 3], "labels": false, "title": null}}
    }
   }
  ],
  "resolve": {"axis": {"x": "independent", "y": "independent"}}
 },
 {
  "spacing": 3,
  "vconcat": [
   {
    "width": 29, "height": 1,
    "data": {"name": "spacer"},
    "mark": {"type": "point", "opacity": 0, "size": 1},
    "encoding": {}
   },
   {
    "width": 29, "height": 173,
    "data": {"name": "p2"},
    "layer": [
     {
      "mark": {"type": "rect", "width": 8, "height": 8, "clip": true},
      "encoding": {
       "x": {"field": "x", "type": "quantitative", "scale": {"domain": [-3, -1.98], "nice": false, "zero": false}, "axis": {"orient": "bottom", "values": [-3, -2], "format": "~g", "title": null, "labelAlign": {"condition": {"test": "datum.value == -2", "value": "right"}, "value": "center"}}},
       "y": {"field": "z", "type": "quantitative", "scale": {"domain": [-3, 3], "nice": false, "zero": false, "reverse": true}, "axis": {"orient": "left", "values": [-3, -2, -1, 0, 1, 2, 3], "format": "~g", "title": "Z (fm)"}},
       "color": {"field": "v", "type": "quantitative", "scale": {"domain": [0, 0.1], "range": ["#00007F", "#0000FF", "#007FFF", "#00FFFF", "#7FFF7F", "#FFFF00", "#FF7F00", "#FF0000", "#7F0000"], "interpolate": "rgb"}, "legend": null}
      }
     },
     {
      "mark": {"type": "rect", "width": 1, "height": 1, "opacity": 0},
      "encoding": {
       "x": {"field": "x", "type": "quantitative", "axis": {"orient": "top", "values": [-3, -2], "labels": false, "title": null}}
      }
     }
    ],
    "resolve": {"axis": {"x": "independent"}}
   }
  ]
 }
],
"spacing": 17,
"resolve": {"scale": {"color": "independent"}, "legend": {"color": "independent"}}
}
